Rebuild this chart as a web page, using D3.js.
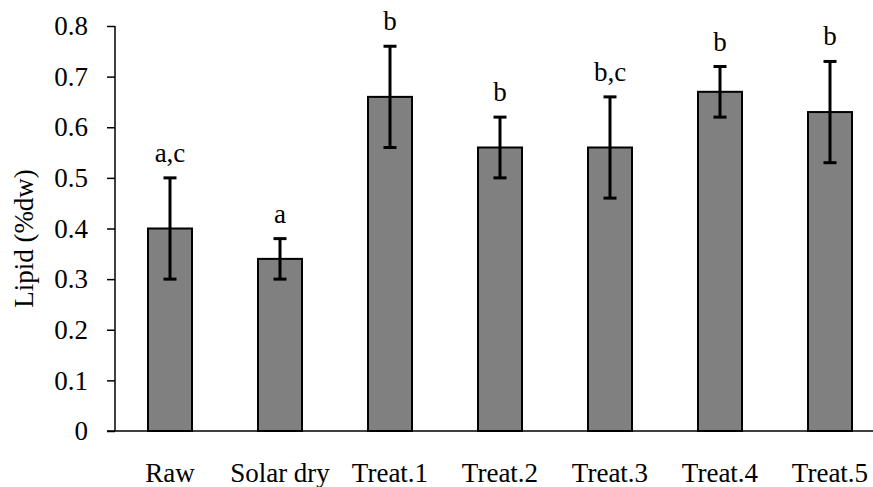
<!DOCTYPE html>
<html><head><meta charset="utf-8">
<script src="https://cdn.jsdelivr.net/npm/d3@7"></script>
<style>body{margin:0;background:#fff}svg{display:block}</style>
</head><body>
<svg id="c" width="873" height="487"></svg>
<script>
const categories = ["Raw","Solar dry","Treat.1","Treat.2","Treat.3","Treat.4","Treat.5"];
const values = [0.40,0.34,0.66,0.56,0.56,0.67,0.63];
const errors = [0.10,0.04,0.10,0.06,0.10,0.05,0.10];
const letters = ["a,c","a","b","b","b,c","b","b"];
const yTicks = [0,0.1,0.2,0.3,0.4,0.5,0.6,0.7,0.8];

const svg = d3.select("#c");
const font = "'Liberation Serif','Times New Roman',serif";
const fs = 27;
const x0 = 115, yBase = 431, yTop = 26;
const x = d3.scaleBand().domain(categories).range([x0, x0 + 110*7]).paddingInner(0.6).paddingOuter(0.3);
const y = d3.scaleLinear().domain([0,0.8]).range([yBase, yTop]);

// y axis
const ya = svg.append("g").attr("transform",`translate(${x0},0)`)
  .call(d3.axisLeft(y).tickValues(yTicks).tickSize(8).tickPadding(19).tickFormat(d=>d===0?"0":d3.format(".1f")(d)));
ya.select(".domain").attr("stroke","#000").attr("stroke-width",1.5).attr("d",`M0,${yBase}V${yTop}`);
ya.selectAll(".tick line").attr("stroke","#000").attr("stroke-width",1.5);
ya.selectAll(".tick text").attr("font-family",font).attr("font-size",fs).attr("fill","#000");

// bars
const cx = d => x(d) + x.bandwidth()/2;
svg.append("g").selectAll("rect").data(categories).join("rect")
  .attr("x",d=>x(d)).attr("width",x.bandwidth())
  .attr("y",(d,i)=>y(values[i])).attr("height",(d,i)=>yBase - y(values[i]))
  .attr("fill","#808080").attr("stroke","#000").attr("stroke-width",2);

// x axis line
svg.append("line").attr("x1",107).attr("x2",873).attr("y1",yBase).attr("y2",yBase)
  .attr("stroke","#000").attr("stroke-width",1.5);

// error bars
const eg = svg.append("g").attr("stroke","#000").attr("stroke-width",3);
categories.forEach((c,i)=>{
  const xc = cx(c), lo = y(values[i]-errors[i]), hi = y(values[i]+errors[i]);
  eg.append("line").attr("x1",xc).attr("x2",xc).attr("y1",lo).attr("y2",hi);
  eg.append("line").attr("x1",xc-6.5).attr("x2",xc+6.5).attr("y1",lo).attr("y2",lo);
  eg.append("line").attr("x1",xc-6.5).attr("x2",xc+6.5).attr("y1",hi).attr("y2",hi);
});

// letters
svg.append("g").selectAll("text").data(categories).join("text")
  .attr("x",d=>cx(d)).attr("y",(d,i)=>y(values[i]+errors[i]) - 16)
  .attr("text-anchor","middle").attr("font-family",font).attr("font-size",fs).attr("fill","#000")
  .text((d,i)=>letters[i]);

// category labels
svg.append("g").selectAll("text").data(categories).join("text")
  .attr("x",d=>cx(d)).attr("y",482)
  .attr("text-anchor","middle").attr("font-family",font).attr("font-size",fs).attr("fill","#000")
  .text(d=>d);

// y title
svg.append("text").attr("transform",`translate(33,${(yBase+yTop)/2 + 10}) rotate(-90)`)
  .attr("text-anchor","middle").attr("font-family",font).attr("font-size",fs).attr("fill","#000")
  .text("Lipid (%dw)");
</script>
</body></html>
